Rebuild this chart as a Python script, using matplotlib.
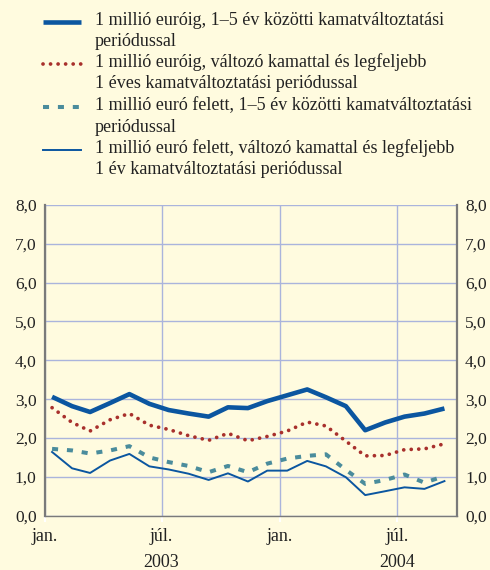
import matplotlib
matplotlib.use("Agg")
import matplotlib.pyplot as plt
from matplotlib.lines import Line2D
import pandas as pd

# monthly data, jan 2003 - sep 2004
months = pd.date_range("2003-01-01", periods=21, freq="MS") + pd.Timedelta(days=11)

upto_1m_1to5y = [3.06, 2.82, 2.67, 2.90, 3.13, 2.88, 2.72, 2.63, 2.55, 2.79, 2.77,
                 2.95, 3.10, 3.25, 3.05, 2.82, 2.20, 2.40, 2.55, 2.63, 2.76]
upto_1m_float = [2.78, 2.40, 2.18, 2.47, 2.63, 2.33, 2.22, 2.06, 1.94, 2.12, 1.93,
                 2.04, 2.18, 2.41, 2.31, 1.92, 1.54, 1.55, 1.70, 1.72, 1.85]
over_1m_1to5y = [1.72, 1.68, 1.60, 1.68, 1.79, 1.50, 1.38, 1.28, 1.12, 1.28, 1.12,
                 1.34, 1.47, 1.54, 1.58, 1.18, 0.82, 0.92, 1.06, 0.85, 1.02]
over_1m_float = [1.64, 1.22, 1.10, 1.42, 1.59, 1.27, 1.19, 1.08, 0.92, 1.09, 0.88,
                 1.16, 1.16, 1.41, 1.27, 0.99, 0.53, 0.63, 0.73, 0.69, 0.89]

legend_lines = [
    ["1 millió euróig, 1–5 év közötti kamatváltoztatási", "periódussal"],
    ["1 millió euróig, változó kamattal és legfeljebb", "1 éves kamatváltoztatási periódussal"],
    ["1 millió euró felett, 1–5 év közötti kamatváltoztatási", "periódussal"],
    ["1 millió euró felett, változó kamattal és legfeljebb", "1 év kamatváltoztatási periódussal"],
]
year_labels = ["2003", "2004"]
yticks = [0, 1, 2, 3, 4, 5, 6, 7, 8]

bg = "#fffbdf"
blue = "#0b56a0"
red = "#a8302c"
teal = "#4a8c9c"
grid_c = "#aab4dc"
spine_c = "#7a7a7a"
txt_c = "#222222"

plt.rcParams["font.family"] = ["Liberation Serif", "DejaVu Serif"]

fig = plt.figure(figsize=(4.9, 5.7), dpi=100, facecolor=bg)
ax = fig.add_axes([0.0918, 0.0953, 0.932 - 0.0918, 0.6404 - 0.0953], facecolor=bg)

styles = [
    dict(color=blue, lw=3.3, solid_capstyle="butt"),
    dict(color=red, lw=2.7, linestyle=(0, (0.01, 2.0)), dash_capstyle="round"),
    dict(color=teal, lw=2.9, linestyle=(0, (1.5, 2.2)), dash_capstyle="butt"),
    dict(color=blue, lw=1.4),
]
series = [upto_1m_1to5y, upto_1m_float, over_1m_1to5y, over_1m_float]
for vals, st in zip(series, styles):
    ax.plot(months, vals, **st, zorder=3)

ax.set_xlim(pd.Timestamp("2003-01-01"), pd.Timestamp("2004-10-01"))
ax.set_ylim(0, 8)
xt = [pd.Timestamp("2003-01-01"), pd.Timestamp("2003-07-01"),
      pd.Timestamp("2004-01-01"), pd.Timestamp("2004-07-01")]
ax.set_xticks(xt)
ax.set_xticklabels(["jan.", "júl.", "jan.", "júl."])
ax.set_yticks(yticks)
ax.set_yticklabels([f"{v:.1f}".replace(".", ",") for v in yticks])
ax.grid(True, color=grid_c, lw=1.0)
ax.set_axisbelow(True)

ax.tick_params(axis="x", direction="out", length=4, width=1.5, color="white",
               labelsize=13, pad=5, labelcolor=txt_c)
ax.tick_params(axis="y", length=0, labelsize=12.5, pad=6,
               labelleft=True, labelright=True, labelcolor=txt_c)

for s in ["left", "right"]:
    ax.spines[s].set_color(spine_c)
    ax.spines[s].set_linewidth(1.6)
ax.spines["bottom"].set_color(spine_c)
ax.spines["bottom"].set_linewidth(1.0)
ax.spines["top"].set_visible(False)

# year labels below the july ticks
for yr in year_labels:
    ax.text(pd.Timestamp(f"{yr}-07-01"), -0.15, yr, transform=ax.get_xaxis_transform(),
            ha="center", va="center", fontsize=13, color=txt_c)

# legend drawn by hand
entry_y = [21.7, 63.5, 107.3, 150]
for k, (lines, st) in enumerate(zip(legend_lines, styles)):
    yy = 1 - entry_y[k] / 570
    fig.add_artist(Line2D([43 / 490, 81 / 490], [yy, yy], transform=fig.transFigure, **st))
    for j, txt in enumerate(lines):
        fig.text(95 / 490, 1 - (entry_y[k] - 1.5 + j * 21.3) / 570, txt,
                 ha="left", va="center", fontsize=13, color=txt_c)

fig.savefig("out.png", dpi=100, facecolor=bg)
